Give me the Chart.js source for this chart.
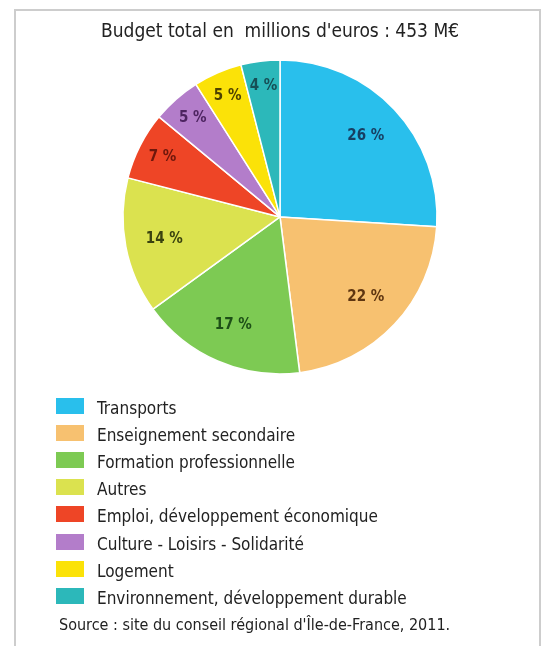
<!DOCTYPE html>
<html>
<head>
<meta charset="utf-8">
<script src="https://cdn.jsdelivr.net/npm/chart.js@4/dist/chart.umd.min.js"></script>
<style>
  html, body { margin: 0; padding: 0; background: #ffffff; }
  #wrap { position: relative; width: 547px; height: 646px; overflow: hidden; }
  #frame { position: absolute; left: 14px; top: 9px; width: 527px; height: 700px;
           border: 2px solid #cdcdcd; box-sizing: border-box; }
  #c { position: absolute; left: 0; top: 0; }
  .lg-box { position: absolute; width: 28px; height: 16px; }
  .lg-txt, #source { position: absolute; font-family: "DejaVu Sans Condensed", "DejaVu Sans", sans-serif;
            color: #222; white-space: nowrap; line-height: 20px; }
  .lg-txt { font-size: 17px; }
  #source { font-size: 16px; }
</style>
</head>
<body>
<div id="wrap">
  <div id="frame"></div>
  <canvas id="c" width="547" height="646"></canvas>
  <div id="legend"></div>
  <div id="source"></div>
</div>
<script>
const title = "Budget total en  millions d'euros : 453 M€";
const sourceText = "Source : site du conseil régional d'Île-de-France, 2011.";
const categories = [
  "Transports",
  "Enseignement secondaire",
  "Formation professionnelle",
  "Autres",
  "Emploi, développement économique",
  "Culture - Loisirs - Solidarité",
  "Logement",
  "Environnement, développement durable"
];
const shares = [26, 22, 17, 14, 7, 5, 5, 4];
const sliceColors = ["#29bfec", "#f7c170", "#7dca53", "#dbe24f", "#ee4526", "#b37dca", "#fbe208", "#2cb8ba"];
const labelColors = ["#173f63", "#5e3510", "#1d4f17", "#39420f", "#6e170c", "#4d2461", "#4e4200", "#164f56"];

const FONT = '"DejaVu Sans Condensed", "DejaVu Sans", sans-serif';

const pctLabels = {
  id: 'pctLabels',
  afterDatasetsDraw(chart) {
    const ctx = chart.ctx;
    const meta = chart.getDatasetMeta(0);
    ctx.save();
    ctx.font = 'bold 15px ' + FONT;
    ctx.textAlign = 'center';
    ctx.textBaseline = 'middle';
    meta.data.forEach((arc, i) => {
      const p = arc.getProps(['x', 'y', 'startAngle', 'endAngle', 'outerRadius'], true);
      const mid = (p.startAngle + p.endAngle) / 2;
      const f = shares[i] >= 10 ? 0.75 : 0.84;
      const r = p.outerRadius * f;
      ctx.fillStyle = labelColors[i];
      ctx.fillText(shares[i] + ' %', p.x + Math.cos(mid) * r, p.y + Math.sin(mid) * r);
    });
    ctx.restore();
  }
};

const chart = new Chart(document.getElementById('c'), {
  type: 'pie',
  data: {
    labels: categories,
    datasets: [{
      data: shares,
      backgroundColor: sliceColors,
      borderColor: '#ffffff',
      borderWidth: 1.5
    }]
  },
  options: {
    responsive: false,
    animation: false,
    radius: 157,
    layout: { padding: { left: 13, right: 0, top: 0, bottom: 273 } },
    plugins: {
      legend: { display: false },
      tooltip: { enabled: false },
      title: {
        display: true,
        text: title,
        color: '#222',
        font: { family: FONT, size: 19, weight: 'normal', lineHeight: 1.2 },
        padding: { top: 21, bottom: 17 }
      }
    }
  },
  plugins: [pctLabels]
});

// HTML legend built from the chart's own legend items
const legendEl = document.getElementById('legend');
const items = chart.options.plugins.legend.labels.generateLabels(chart);
items.forEach((it, i) => {
  const cy = 406 + i * 27.1;
  const box = document.createElement('div');
  box.className = 'lg-box';
  box.style.left = '56px';
  box.style.top = (cy - 8) + 'px';
  box.style.background = it.fillStyle;
  legendEl.appendChild(box);
  const t = document.createElement('div');
  t.className = 'lg-txt';
  t.style.left = '97px';
  t.style.top = (cy - 8) + 'px';
  t.textContent = it.text;
  legendEl.appendChild(t);
});
const src = document.getElementById('source');
src.textContent = sourceText;
src.style.left = '59px';
src.style.top = '615px';
</script>
</body>
</html>
